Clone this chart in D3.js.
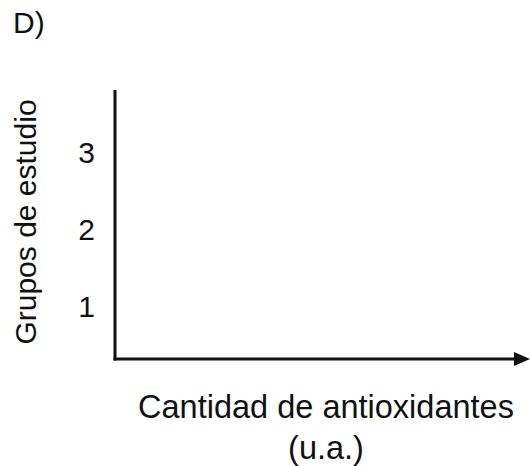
<!DOCTYPE html>
<html>
<head>
<meta charset="utf-8">
<script src="https://cdn.jsdelivr.net/npm/d3@7"></script>
<style>
  html, body { margin: 0; padding: 0; background: #fff; }
  svg { display: block; font-family: "Liberation Sans", Arial, sans-serif; }
</style>
</head>
<body>
<svg id="chart" width="530" height="466"></svg>
<script>
// Study groups on the vertical axis, antioxidant amount on the horizontal
const groups = [1, 2, 3];
const groupLabels = ["1", "2", "3"];
const panelLabel = "D)";
const xTitleLines = ["Cantidad de antioxidantes", "(u.a.)"];
const yTitle = "Grupos de estudio";

const W = 530, H = 466;
const margin = { left: 115, top: 90, right: 0, bottom: 107 };
const ink = "#111";

const svg = d3.select("#chart");

const x = d3.scaleLinear().domain([0, 1]).range([margin.left, W - margin.right]);
const y = d3.scaleLinear().domain([0.3, 3.8]).range([H - margin.bottom, margin.top]);

// Y axis with group numbers, no tick marks
const yAxis = d3.axisLeft(y)
  .tickValues(groups)
  .tickFormat((d, i) => groupLabels[i])
  .tickSize(0)
  .tickPadding(20);

const gy = svg.append("g")
  .attr("transform", `translate(${margin.left},0)`)
  .call(yAxis)
  .attr("font-family", "Liberation Sans, Arial, sans-serif")
  .attr("font-size", 30);
gy.select(".domain").remove();
gy.selectAll("text")
  .attr("fill", ink)
  .attr("dy", "0.36em");

// Axis lines
const x0 = x.range()[0], x1 = x.range()[1];
const y0 = y.range()[0], y1 = y.range()[1];
const headLen = 16, headHalf = 7;

svg.append("line")
  .attr("x1", x0).attr("x2", x0)
  .attr("y1", y1).attr("y2", y0 + 1.5)
  .attr("stroke", ink).attr("stroke-width", 3);

svg.append("line")
  .attr("x1", x0 - 1.5).attr("x2", x1 - headLen + 1)
  .attr("y1", y0).attr("y2", y0)
  .attr("stroke", ink).attr("stroke-width", 3);

// Arrow head on the horizontal axis
svg.append("path")
  .attr("d", d3.line()([
    [x1 - headLen, y0 - headHalf],
    [x1, y0],
    [x1 - headLen, y0 + headHalf]
  ]) + "Z")
  .attr("fill", ink);

// Horizontal axis title (two lines)
const xt = svg.append("text")
  .attr("text-anchor", "middle")
  .attr("font-size", 32.5)
  .attr("fill", ink);
xTitleLines.forEach((t, i) => {
  xt.append("tspan")
    .attr("x", 326)
    .attr("y", 418 + i * 41)
    .text(t);
});

// Vertical axis title
svg.append("text")
  .attr("transform", `translate(36,${222}) rotate(-90)`)
  .attr("text-anchor", "middle")
  .attr("font-size", 30)
  .attr("fill", ink)
  .text(yTitle);

// Panel letter
svg.append("text")
  .attr("x", 13)
  .attr("y", 33)
  .attr("font-size", 30)
  .attr("fill", ink)
  .text(panelLabel);
</script>
</body>
</html>
